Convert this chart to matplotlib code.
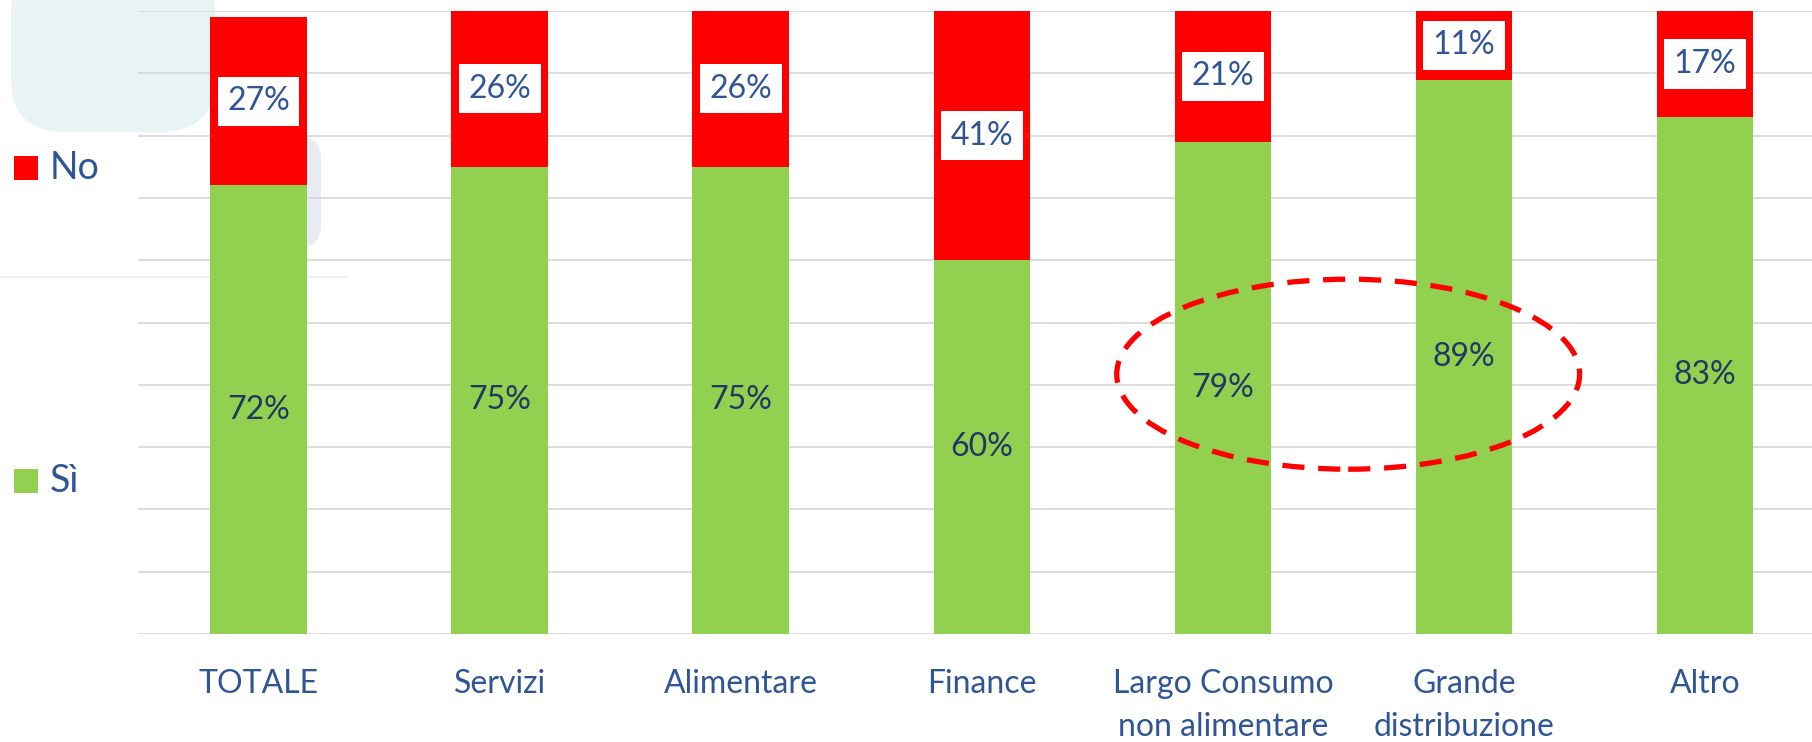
import matplotlib
matplotlib.use("Agg")
import matplotlib.pyplot as plt
from matplotlib.patches import Ellipse, FancyBboxPatch, Rectangle
from matplotlib.lines import Line2D
import numpy as np

plt.rcParams['font.family'] = ['Lato', 'DejaVu Sans']

categories = ["TOTALE", "Servizi", "Alimentare", "Finance",
              "Largo Consumo\nnon alimentare", "Grande\ndistribuzione", "Altro"]
si_values = [72, 75, 75, 60, 79, 89, 83]
no_values = [27, 26, 26, 41, 21, 11, 17]
legend_labels = ["No", "Sì"]

GREEN = "#92D050"
RED = "#FF0000"
BLUE = "#2F5597"
NAVY = "#1F3864"

W, H = 1812, 742
fig = plt.figure(figsize=(W / 100, H / 100), dpi=100)

def fx(x):
    return x / W

def fy(y):
    return 1 - y / H

# background slide decorations (behind the chart)
fig.patches.append(FancyBboxPatch((fx(11), fy(132)), fx(204), fy(-40) - fy(132),
                                  boxstyle="round,pad=0,rounding_size=0.03",
                                  transform=fig.transFigure, facecolor="#E8F4F4",
                                  edgecolor="none", zorder=-2, mutation_aspect=W / H))
fig.patches.append(FancyBboxPatch((fx(220), fy(247)), fx(101), fy(137) - fy(247),
                                  boxstyle="round,pad=0,rounding_size=0.012",
                                  transform=fig.transFigure, facecolor="#E7EBF3",
                                  edgecolor="none", zorder=-2, mutation_aspect=W / H))
fig.lines.append(Line2D([0, fx(348)], [fy(277), fy(277)], transform=fig.transFigure,
                        color="#EEF0F3", lw=1.2, zorder=-2))

left, right = 138, 1825.5
top, bottom = 11, 634
ax = fig.add_axes([fx(left), fy(bottom), fx(right - left), fy(top) - fy(bottom)])
ax.patch.set_alpha(0)
ax.set_zorder(2)

x = np.arange(len(categories))
si = np.array(si_values)
no = np.array(no_values)
ax.bar(x, si, width=0.4, color=GREEN, zorder=2)
ax.bar(x, no, bottom=si, width=0.4, color=RED, zorder=2)

ax.set_xlim(-0.5, len(categories) - 0.5)
ax.set_ylim(0, 100)
ax.set_yticks(np.arange(0, 101, 10))
ax.yaxis.grid(True, color="#D9D9D9", lw=1.3, zorder=0)
ax.set_axisbelow(True)
ax.tick_params(axis="y", length=0, labelleft=False)
ax.tick_params(axis="x", length=0, pad=25, labelsize=23, labelcolor=BLUE)
ax.set_xticks(x, categories)
for t in ax.get_xticklabels():
    t.set_linespacing(1.55)
for s in ax.spines.values():
    s.set_visible(False)

for xi, s_, n_ in zip(x, si, no):
    ax.text(xi, s_ / 2, f"{s_}%", ha="center", va="center", fontsize=23,
            color=NAVY, zorder=4)
    ytop = min(s_ + n_, 100)
    ax.text(xi, (s_ + ytop) / 2, f"{n_}%", ha="center", va="center", fontsize=23,
            color=BLUE, zorder=4,
            bbox=dict(boxstyle="square,pad=0.3", facecolor="white", edgecolor="none"))

# dashed ellipse highlighting two categories
ell = Ellipse((4.52, 41.7), width=1.92, height=30.5, angle=0, fill=False,
              edgecolor=RED, lw=3.8, linestyle=(0, (4.2, 2.6)), clip_on=False, zorder=5)
ax.add_patch(ell)

# legend on the left
legend_colors = [RED, GREEN]
legend_y = [168, 481]
for lab, col, ly in zip(legend_labels, legend_colors, legend_y):
    fig.patches.append(Rectangle((fx(14), fy(ly + 12)), fx(24), fy(ly - 12) - fy(ly + 12),
                                 transform=fig.transFigure, facecolor=col,
                                 edgecolor="none", zorder=3))
    fig.text(fx(50), fy(ly), lab, ha="left", va="center", fontsize=27, color=BLUE)

fig.savefig("out.png", dpi=100)
